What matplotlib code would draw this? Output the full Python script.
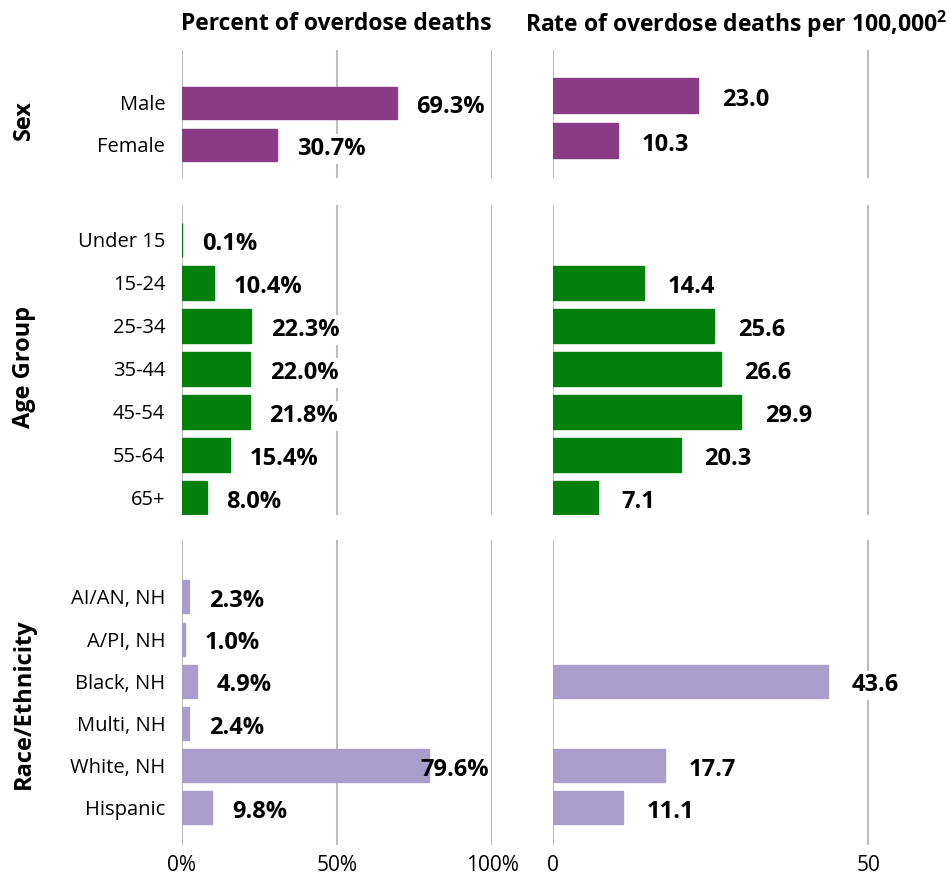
import numpy as np
import matplotlib
matplotlib.use("Agg")
import matplotlib.pyplot as plt

plt.rcParams["font.family"] = ["Open Sans", "DejaVu Sans"]
plt.rcParams["mathtext.fontset"] = "custom"
plt.rcParams["mathtext.bf"] = "Open Sans:bold"

# data
sex_cats = ["Male", "Female"]
sex_pct = [69.3, 30.7]
sex_rate = [23.0, 10.3]

age_cats = ["Under 15", "15-24", "25-34", "35-44", "45-54", "55-64", "65+"]
age_pct = [0.1, 10.4, 22.3, 22.0, 21.8, 15.4, 8.0]
age_rate = [np.nan, 14.4, 25.6, 26.6, 29.9, 20.3, 7.1]

race_cats = ["AI/AN, NH", "A/PI, NH", "Black, NH", "Multi, NH", "White, NH", "Hispanic"]
race_pct = [2.3, 1.0, 4.9, 2.4, 79.6, 9.8]
race_rate = [np.nan, np.nan, 43.6, np.nan, 17.7, 11.1]

row_names = ["Sex", "Age Group", "Race/Ethnicity"]
pct_ticks = [0, 50, 100]
pct_tick_labels = ["0%", "50%", "100%"]
rate_ticks = [0, 50]
rate_tick_labels = ["0", "50"]

col_titles = ["Percent of overdose deaths",
              r"Rate of overdose deaths per 100,000$^\mathbf{2}$"]

W, H = 950, 877
fig = plt.figure(figsize=(W / 100, H / 100), dpi=100)

# pixel geometry: top, bottom, then per column (top pad, bottom pad, bar height) in category units
rows = [
    (sex_cats, sex_pct, sex_rate, "#8b3c86", 50, 178, [(1.26, 0.79, 0.76), (1.01, 0.83, 0.765)]),
    (age_cats, age_pct, age_rate, "#02800c", 205, 515, [(0.81, 0.40, 0.79)] * 2),
    (race_cats, race_pct, race_rate, "#a99ec9", 540, 845, [(1.35, 0.88, 0.78)] * 2),
]
cols = [(182, 492, (0, 100), pct_ticks, pct_tick_labels, "{:.1f}%", 14),
        (553, 945, (0, 62.2), rate_ticks, rate_tick_labels, "{:.1f}", 17)]

label_y = [120, 367, 704]

for r, (cats, pct, rate, color, top, bot, geo) in enumerate(rows):
    for c, (x0, x1, xlim, ticks, tlabels, fmt, off) in enumerate(cols):
        vals = pct if c == 0 else rate
        tpad, bpad, bh = geo[c]
        ax = fig.add_axes([x0 / W, 1 - bot / H, (x1 - x0) / W, (bot - top) / H])
        y = np.arange(len(cats))
        ax.barh(y, vals, height=bh, color=color, edgecolor=color, linewidth=1, zorder=2)
        ax.set_xlim(*xlim)
        ax.set_ylim(len(cats) - 1 + bpad, -tpad)
        ax.set_xticks(ticks)
        ax.grid(axis="x", color="#bdbdbd", linewidth=1.5, zorder=0)
        for s in ax.spines.values():
            s.set_visible(False)
        ax.tick_params(length=0)
        if r == 2:
            ax.set_xticklabels(tlabels, fontsize=15)
            ax.tick_params(axis="x", pad=7)
        else:
            ax.set_xticklabels([])
        if c == 0:
            ax.set_yticks(y)
            ax.set_yticklabels(cats, fontsize=14.5)
            ax.tick_params(axis="y", pad=12)
        else:
            ax.set_yticks([])
        for yi, v in zip(y, vals):
            if np.isnan(v):
                continue
            txt = fmt.format(v)
            if c == 0 and v > 75:
                # does not fit outside: pin to the right edge
                ax.annotate(txt, (xlim[1], yi), xytext=(-2, -3), textcoords="offset points",
                            ha="right", va="center", fontsize=17, fontweight="bold", zorder=4)
            else:
                ax.annotate(txt, (v, yi), xytext=(off, -3), textcoords="offset points",
                            ha="left", va="center", fontsize=17, fontweight="bold", zorder=4,
                            bbox=dict(facecolor="white", edgecolor="none", pad=2))
    fig.text(24 / W, 1 - label_y[r] / H, row_names[r], rotation=90, ha="center", va="center",
             fontsize=17, fontweight="bold")

fig.text(336 / W, 1 - 24 / H, col_titles[0], ha="center", va="center",
         fontsize=16.5, fontweight="bold")
fig.text(736 / W, 1 - 24 / H, col_titles[1], ha="center", va="center",
         fontsize=16.5, fontweight="bold")

fig.savefig("out.png", dpi=100)
